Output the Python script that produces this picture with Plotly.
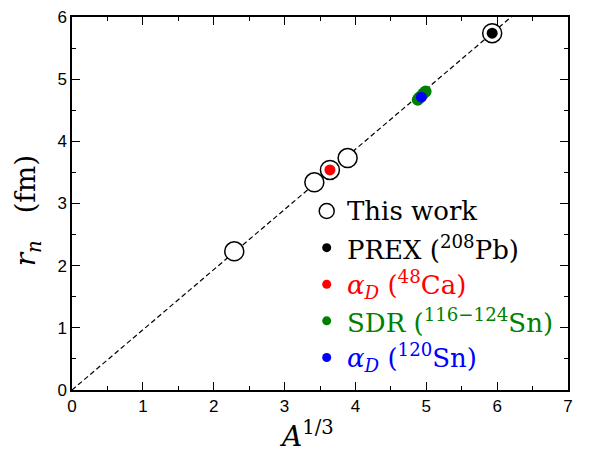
import plotly.graph_objects as go

# A^(1/3) and neutron radius r_n (fm)
this_work_x = [2.29, 3.42, 3.64, 3.89, 5.93]
this_work_y = [2.23, 3.34, 3.54, 3.73, 5.74]

prex_x = [5.93]
prex_y = [5.74]

alphad_ca_x = [3.64]
alphad_ca_y = [3.54]

sdr_sn_x = [4.88, 4.90, 4.93, 4.96, 4.99]
sdr_sn_y = [4.67, 4.70, 4.73, 4.77, 4.80]

alphad_sn_x = [4.93]
alphad_sn_y = [4.71]

# r_n = r0 * A^(1/3)
r0 = 0.968
line_x = [0.0, 7.0]
line_y = [r0 * v for v in line_x]

legend_labels = [
    "This work",
    "PREX (<sup>208</sup>Pb)",
    "<i>α<sub>D</sub></i> (<sup>48</sup>Ca)",
    "SDR (<sup>116−124</sup>Sn)",
    "<i>α<sub>D</sub></i> (<sup>120</sup>Sn)",
]
legend_colors = ["black", "black", "#ff0000", "#008000", "#0000ff"]

SERIF = "DejaVu Serif"
TICKFONT = "Liberation Sans"

fig = go.Figure()

fig.add_trace(go.Scatter(
    x=line_x, y=line_y, mode="lines",
    line=dict(color="black", width=1.2, dash="5px,3px"),
    showlegend=False, hoverinfo="skip",
))

fig.add_trace(go.Scatter(
    x=this_work_x, y=this_work_y, mode="markers",
    marker=dict(size=19, color="white", line=dict(color="black", width=1.5)),
    showlegend=False,
))

fig.add_trace(go.Scatter(
    x=sdr_sn_x, y=sdr_sn_y, mode="markers",
    marker=dict(size=12, color="#008000", line=dict(width=0)),
    showlegend=False,
))

fig.add_trace(go.Scatter(
    x=alphad_sn_x, y=alphad_sn_y, mode="markers",
    marker=dict(size=11, color="#0000ff", line=dict(width=0)),
    showlegend=False,
))

fig.add_trace(go.Scatter(
    x=alphad_ca_x, y=alphad_ca_y, mode="markers",
    marker=dict(size=11, color="#ff0000", line=dict(width=0)),
    showlegend=False,
))

fig.add_trace(go.Scatter(
    x=prex_x, y=prex_y, mode="markers",
    marker=dict(size=11, color="black", line=dict(width=0)),
    showlegend=False,
))

# empty trace that brings up the top/right tick axes
fig.add_trace(go.Scatter(x=[], y=[], xaxis="x2", yaxis="y2", showlegend=False, hoverinfo="skip"))

# Hand-placed legend: markers as pixel-sized shapes, labels as annotations
L, R, T, B = 72, 22, 8, 62
W, H = 590, 452
pw, ph = W - L - R, H - T - B

def px_to_paper(px, py):
    return (px - L) / pw, (H - B - py) / ph

row_top = 206.7
row_step = 37.5
marker_px = 326.7
text_px = 345.0

shapes = []
annotations = []
for i, (label, color) in enumerate(zip(legend_labels, legend_colors)):
    py = row_top + i * row_step
    mx, my = px_to_paper(marker_px, py)
    if i == 0:
        r = 7.5
        shapes.append(dict(
            type="circle", xref="paper", yref="paper",
            xsizemode="pixel", ysizemode="pixel", xanchor=mx, yanchor=my,
            x0=-r, x1=r, y0=-r, y1=r,
            fillcolor="white", line=dict(color="black", width=1.5),
        ))
    else:
        r = 4.5
        shapes.append(dict(
            type="circle", xref="paper", yref="paper",
            xsizemode="pixel", ysizemode="pixel", xanchor=mx, yanchor=my,
            x0=-r, x1=r, y0=-r, y1=r,
            fillcolor=color, line=dict(width=0),
        ))
    tx, ty = px_to_paper(text_px, py)
    annotations.append(dict(
        x=tx, y=ty, xref="paper", yref="paper", xanchor="left", yanchor="middle",
        text=label, showarrow=False,
        font=dict(family=SERIF, size=26, color=color),
    ))

# Axis titles
ax_x, ax_y = px_to_paper(306, 436)
annotations.append(dict(
    x=ax_x, y=ax_y, xref="paper", yref="paper", xanchor="center", yanchor="middle",
    text="<i>A</i><sup>1/3</sup>", showarrow=False,
    font=dict(family=SERIF, size=28, color="black"),
))
ay_x, ay_y = px_to_paper(27, 207)
annotations.append(dict(
    x=ay_x, y=ay_y, xref="paper", yref="paper", xanchor="center", yanchor="middle",
    text="<i>r<sub>n</sub></i>   (fm)", showarrow=False, textangle=-90,
    font=dict(family=SERIF, size=28, color="black"),
))

tick_common = dict(
    ticks="inside", ticklen=8, tickwidth=1.2, tickcolor="black",
    showgrid=False, zeroline=False,
    minor=dict(ticks="inside", ticklen=4, tickwidth=1.2, tickcolor="black", dtick=0.5, showgrid=False),
)
tickfont = dict(family=TICKFONT, size=17, color="black")

fig.update_layout(
    width=W, height=H,
    margin=dict(l=L, r=R, t=T, b=B),
    paper_bgcolor="white", plot_bgcolor="white",
    xaxis=dict(range=[0, 7], dtick=1, tick0=0, showline=True, linecolor="black",
               linewidth=1.5, mirror=True, tickfont=tickfont, **tick_common),
    yaxis=dict(range=[0, 6], dtick=1, tick0=0, showline=True, linecolor="black",
               linewidth=1.5, mirror=True, tickfont=tickfont, **tick_common),
    xaxis2=dict(range=[0, 7], dtick=1, tick0=0, overlaying="x", side="top",
                showticklabels=False, showline=False, **tick_common),
    yaxis2=dict(range=[0, 6], dtick=1, tick0=0, overlaying="y", side="right",
                showticklabels=False, showline=False, **tick_common),
    shapes=shapes, annotations=annotations,
    showlegend=False,
)

fig.write_html("out.html")
